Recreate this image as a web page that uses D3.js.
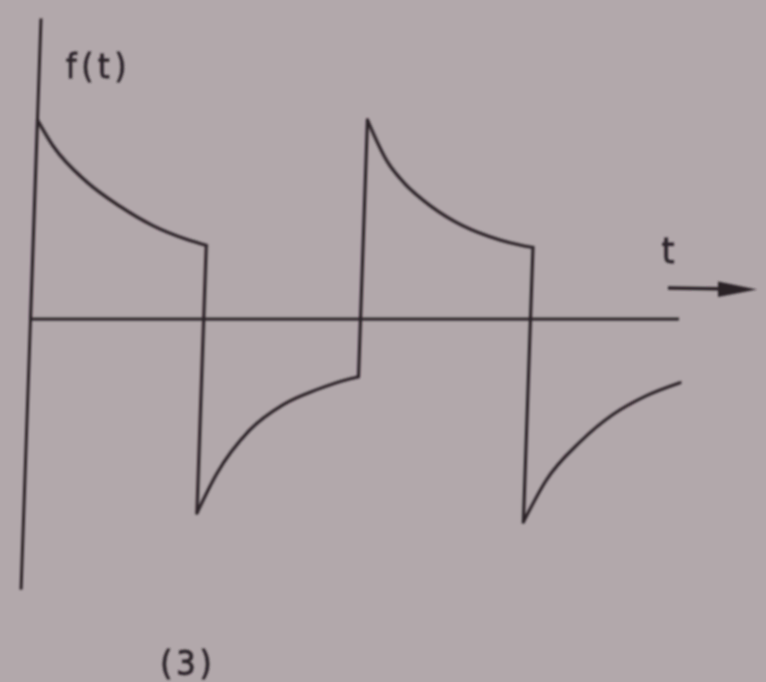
<!DOCTYPE html>
<html><head><meta charset="utf-8">
<script src="https://cdn.jsdelivr.net/npm/d3@7"></script>
<style>html,body{margin:0;padding:0;background:#b2a8ab;}svg{display:block;}</style>
</head><body>
<svg id="chart" width="766" height="682"></svg>
<script>
// ---- data (t in arbitrary time units, f normalised to the first peak) ----
const tAxisExtent = [0, 3.93];
const fAxisExtent = [-1.36, 1.51];
const pos1 = [[0,1.0],[0.10,0.87],[0.31,0.69],[0.52,0.565],[0.72,0.47],[0.93,0.40],[1.05,0.37]];
const neg1 = [[1.05,-0.975],[1.16,-0.78],[1.35,-0.56],[1.55,-0.43],[1.75,-0.355],[1.95,-0.30],[2.0,-0.29]];
const pos2 = [[2.0,1.0],[2.13,0.79],[2.24,0.68],[2.35,0.60],[2.55,0.49],[2.76,0.415],[2.96,0.37],[3.03,0.36]];
const neg2 = [[3.03,-1.02],[3.16,-0.81],[3.36,-0.615],[3.55,-0.48],[3.75,-0.385],[3.95,-0.32]];
const labels = {f: "f(t)", t: "t", fig: "(3)"};

const svg = d3.select("#chart");
const ink = "#2a2227";
const x = d3.scaleLinear().domain([0, 4]).range([30.5, 690.5]);
const y = d3.scaleLinear().domain([-1, 1]).range([518, 120]);
const y0 = y(0);

const defs = svg.append("defs");
defs.append("filter").attr("id","soft").append("feGaussianBlur").attr("stdDeviation",0.8);
defs.append("filter").attr("id","softer").append("feGaussianBlur").attr("stdDeviation",1.1);

const g = svg.append("g")
  .attr("filter","url(#soft)")
  .attr("transform", `translate(0,${y0}) skewX(-2) translate(0,${-y0})`);

const straight = d3.line().x(d=>x(d[0])).y(d=>y(d[1]));
const smooth = d3.line().x(d=>x(d[0])).y(d=>y(d[1])).curve(d3.curveMonotoneX);

// axes
g.append("path").attr("d", straight([[tAxisExtent[0],0],[tAxisExtent[1],0]]))
  .attr("stroke", ink).attr("stroke-width",3).attr("fill","none");
g.append("path").attr("d", straight([[0,fAxisExtent[0]],[0,fAxisExtent[1]]]))
  .attr("stroke", ink).attr("stroke-width",3).attr("fill","none");

// waveform: curved parts
[pos1, neg1, pos2, neg2].forEach(seg => {
  g.append("path").attr("d", smooth(seg))
    .attr("stroke", ink).attr("stroke-width",3.2).attr("fill","none")
    .attr("stroke-linejoin","round").attr("stroke-linecap","round");
});
// vertical jumps
const jumps = [
  [[0,0], pos1[0]],
  [pos1[pos1.length-1], neg1[0]],
  [neg1[neg1.length-1], pos2[0]],
  [pos2[pos2.length-1], neg2[0]]
];
jumps.forEach(j => {
  g.append("path").attr("d", straight(j))
    .attr("stroke", ink).attr("stroke-width",3.2).attr("fill","none")
    .attr("stroke-linecap","round");
});

// direction arrow for t
const a = svg.append("g").attr("filter","url(#soft)");
a.append("line").attr("x1",668).attr("y1",288).attr("x2",730).attr("y2",289)
  .attr("stroke", ink).attr("stroke-width",3.5);
a.append("path").attr("d","M718,281.5 L757,289.5 L718,297 Z").attr("fill", ink);

// labels
const txt = svg.append("g").attr("filter","url(#softer)")
  .attr("font-family","'DejaVu Sans Condensed', 'DejaVu Sans', sans-serif")
  .attr("fill","#2c2429").attr("stroke","#2c2429").attr("stroke-width",0.8);
txt.append("text").attr("x",66).attr("y",78).attr("font-size",33)
  .attr("letter-spacing",5).text(labels.f);
txt.append("text").attr("x",668).attr("y",263).attr("font-size",36)
  .attr("text-anchor","middle").text(labels.t);
txt.append("text").attr("x",188).attr("y",675).attr("font-size",34)
  .attr("letter-spacing",4).attr("text-anchor","middle").text(labels.fig);
</script>
</body></html>
